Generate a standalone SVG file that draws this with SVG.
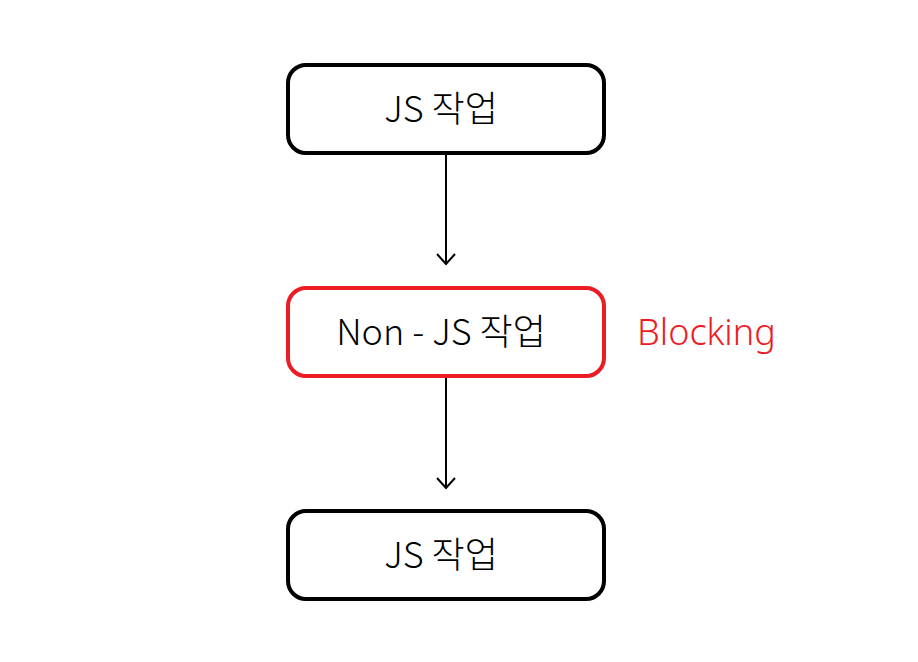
<svg xmlns="http://www.w3.org/2000/svg" width="918" height="662" viewBox="0 0 918 662">
<defs>
<style>
.box{fill:#fff;stroke-width:4}
.lbl{font-family:"Noto Sans CJK KR","Noto Sans",sans-serif;font-size:36px;font-weight:300;text-anchor:middle}
.edge{stroke:#000;stroke-width:2;fill:none}
</style>
<marker id="arr" viewBox="0 0 20 20" refX="18" refY="10" markerWidth="20" markerHeight="20" markerUnits="userSpaceOnUse" orient="auto">
<path d="M8 1 L18 10 L8 19" fill="none" stroke="#000" stroke-width="2"/>
</marker>
</defs>
<rect width="918" height="662" fill="#fff"/>
<g id="connectors">
<line class="edge" x1="446" y1="155" x2="446" y2="264" marker-end="url(#arr)"/>
<line class="edge" x1="446" y1="378" x2="446" y2="488" marker-end="url(#arr)"/>
</g>
<g id="node1">
<rect class="box" x="288" y="65" width="316" height="88" rx="18" stroke="#000"/>
<text class="lbl" x="441" y="122">JS 작업</text>
</g>
<g id="node2">
<rect class="box" x="288" y="288" width="316" height="88" rx="18" stroke="#ED1C24"/>
<text class="lbl" x="441" y="345">Non - JS 작업</text>
</g>
<g id="blocking">
<text x="637" y="345" font-family="'Noto Sans','Noto Sans CJK KR',sans-serif" font-size="36" font-weight="300" fill="#ED1C24">Blocking</text>
</g>
<g id="node3">
<rect class="box" x="288" y="511" width="316" height="88" rx="18" stroke="#000"/>
<text class="lbl" x="441" y="568">JS 작업</text>
</g>
</svg>
